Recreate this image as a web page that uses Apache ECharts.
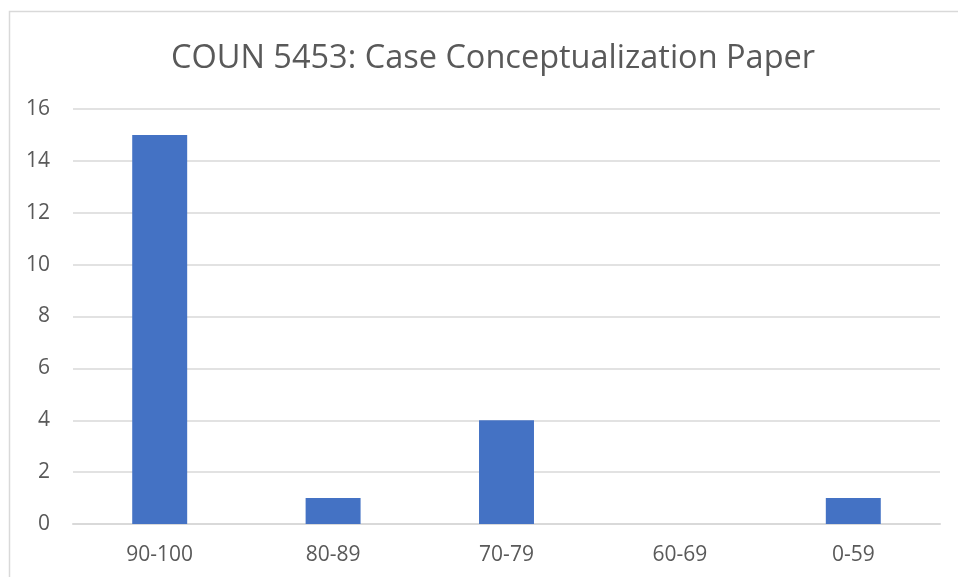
<!DOCTYPE html>
<html>
<head>
<meta charset="utf-8">
<script src="https://cdn.jsdelivr.net/npm/echarts@6/dist/echarts.min.js"></script>
<style>
  html, body { margin: 0; padding: 0; background: #fff; }
  #main { width: 958px; height: 577px; }
</style>
</head>
<body>
<div id="main"></div>
<script>
const titleText = 'COUN 5453: Case Conceptualization Paper'
const categories = ['90-100', '80-89', '70-79', '60-69', '0-59']
const counts = [15, 1, 4, 0, 1]

const chart = echarts.init(document.getElementById('main'))
chart.setOption({
  backgroundColor: '#fff',
  animation: false,
  textStyle: { fontFamily: 'Open Sans' },
  title: {
    text: titleText,
    left: 166,
    top: 37,
    textStyle: { fontFamily: 'Open Sans', fontSize: 32.5, fontWeight: 'normal', color: '#595959' }
  },
  graphic: [{
    type: 'rect',
    shape: { x: 9.5, y: 11.5, width: 1000, height: 700 },
    style: { fill: 'none', stroke: '#d9d9d9', lineWidth: 1.5 },
    silent: true
  }],
  grid: { left: 73, right: 18, top: 109, bottom: 53 },
  xAxis: {
    type: 'category',
    data: categories,
    axisLine: { show: true, lineStyle: { color: '#d9d9d9', width: 2 } },
    axisTick: { show: false },
    axisLabel: { color: '#595959', fontSize: 21, margin: 21 }
  },
  yAxis: {
    type: 'value',
    min: 0,
    max: 16,
    interval: 2,
    axisLine: { show: false },
    axisTick: { show: false },
    splitLine: { lineStyle: { color: '#d9d9d9', width: 1.5 } },
    axisLabel: { color: '#595959', fontSize: 21, margin: 23 }
  },
  series: [{
    type: 'bar',
    data: counts,
    barWidth: '31.7%',
    itemStyle: { color: '#4472c4' }
  }]
})
</script>
</body>
</html>
